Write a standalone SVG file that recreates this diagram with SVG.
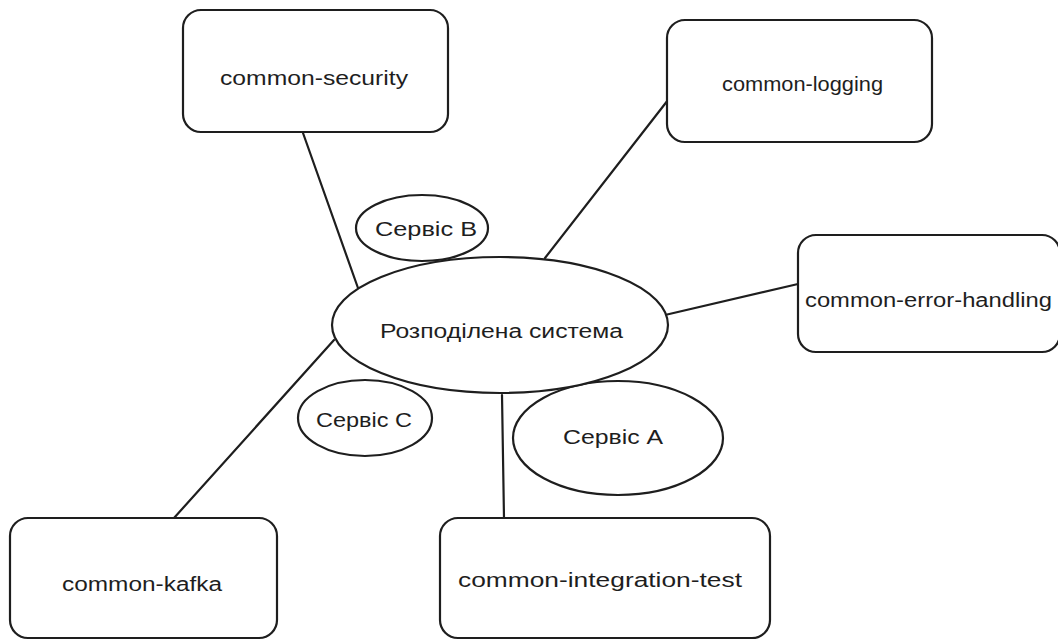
<svg xmlns="http://www.w3.org/2000/svg" width="1058" height="641" viewBox="0 0 1058 641">
  <style>
    .box { fill: #ffffff; stroke: #1e1e1e; stroke-width: 2.2; }
    .oval { fill: #ffffff; stroke: #1e1e1e; stroke-width: 2.2; }
    .link { stroke: #1e1e1e; stroke-width: 2.2; fill: none; stroke-linecap: round; }
    .label { font-family: "Liberation Sans", "DejaVu Sans", sans-serif; font-size: 20px; fill: #1e1e1e; text-anchor: start; }
  </style>
  <rect width="1058" height="641" fill="#ffffff"/>

  <!-- connectors from the central system to each shared module -->
  <g id="connectors">
    <line class="link" x1="303" y1="133" x2="358" y2="288"/>
    <line class="link" x1="668" y1="100" x2="545" y2="258"/>
    <line class="link" x1="665" y1="315" x2="798" y2="284"/>
    <line class="link" x1="334" y1="340" x2="174" y2="518"/>
    <line class="link" x1="502" y1="395" x2="504" y2="518"/>
  </g>

  <g id="common-security">
    <rect class="box" x="183" y="10" width="265" height="122" rx="18"/>
    <text class="label" x="220" y="85" textLength="188" lengthAdjust="spacingAndGlyphs">common-security</text>
  </g>

  <g id="common-logging">
    <rect class="box" x="667" y="20" width="265" height="122" rx="18"/>
    <text class="label" x="722" y="91" textLength="161" lengthAdjust="spacingAndGlyphs">common-logging</text>
  </g>

  <g id="common-error-handling">
    <rect class="box" x="798" y="235" width="262" height="117" rx="18"/>
    <text class="label" x="805" y="307" textLength="247" lengthAdjust="spacingAndGlyphs">common-error-handling</text>
  </g>

  <g id="common-kafka">
    <rect class="box" x="10" y="518" width="267" height="120" rx="18"/>
    <text class="label" x="62" y="591" textLength="160" lengthAdjust="spacingAndGlyphs">common-kafka</text>
  </g>

  <g id="common-integration-test">
    <rect class="box" x="440" y="518" width="330" height="120" rx="18"/>
    <text class="label" x="458" y="587" textLength="284" lengthAdjust="spacingAndGlyphs">common-integration-test</text>
  </g>

  <g id="service-b">
    <ellipse class="oval" cx="422" cy="228" rx="66" ry="33"/>
    <text class="label" x="375" y="236" textLength="102" lengthAdjust="spacingAndGlyphs">Сервіс В</text>
  </g>

  <g id="service-c">
    <ellipse class="oval" cx="365" cy="418" rx="67" ry="38"/>
    <text class="label" x="316" y="427" textLength="96" lengthAdjust="spacingAndGlyphs">Сервіс С</text>
  </g>

  <g id="service-a">
    <ellipse class="oval" cx="618" cy="438" rx="105" ry="57"/>
    <text class="label" x="563" y="444" textLength="100" lengthAdjust="spacingAndGlyphs">Сервіс А</text>
  </g>

  <g id="distributed-system">
    <ellipse class="oval" cx="500" cy="325" rx="168" ry="68"/>
    <text class="label" x="380" y="338" textLength="243" lengthAdjust="spacingAndGlyphs">Розподілена система</text>
  </g>
</svg>
